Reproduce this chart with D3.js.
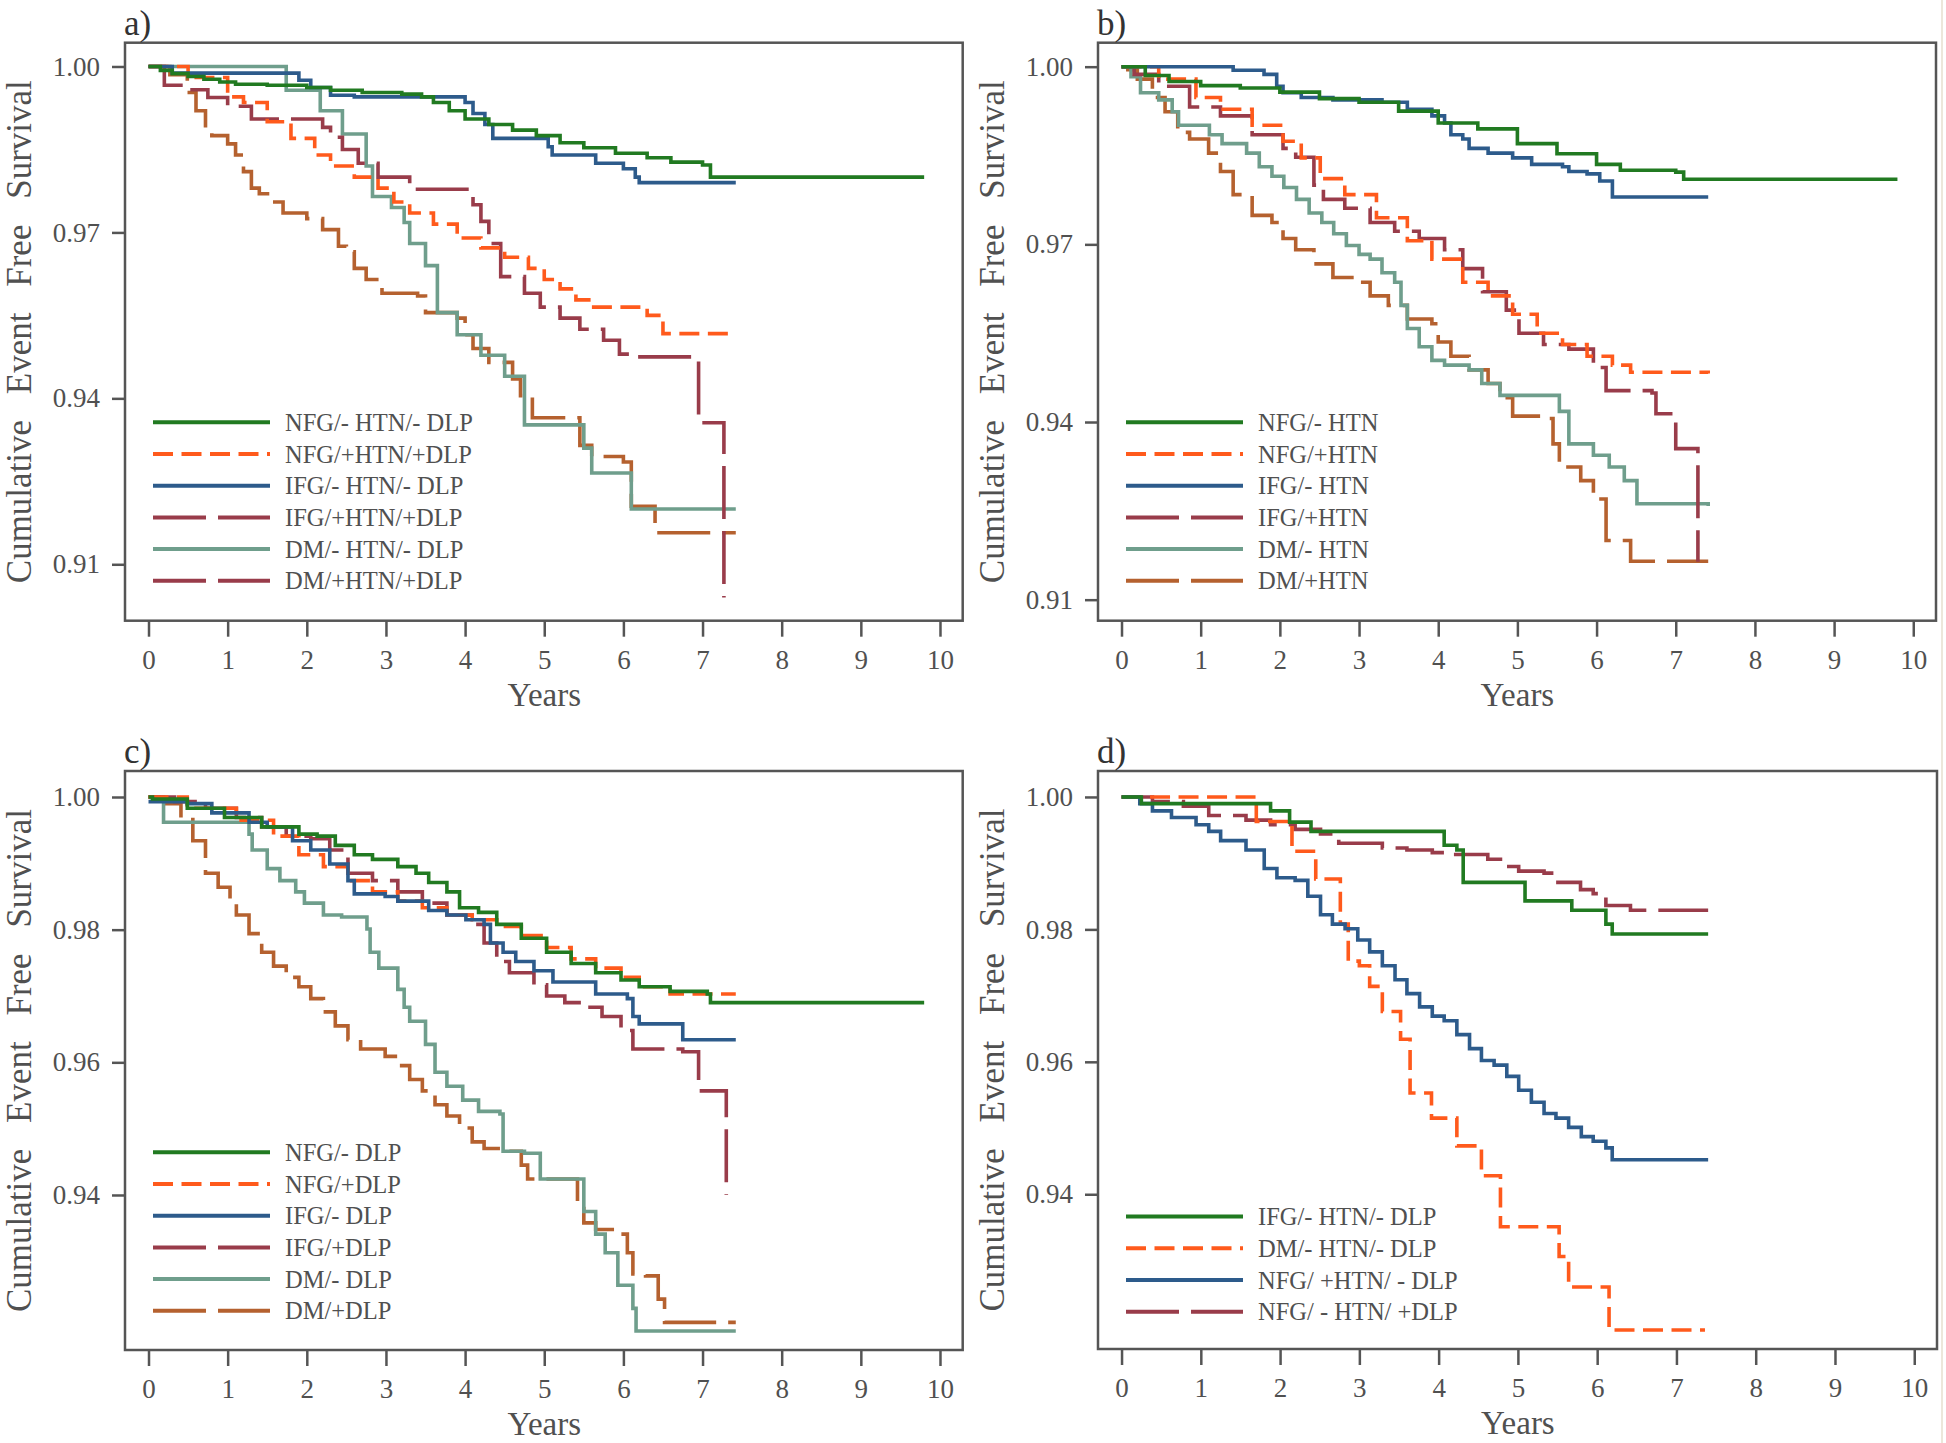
<!DOCTYPE html>
<html>
<head>
<meta charset="utf-8">
<script src="https://cdn.jsdelivr.net/npm/d3@7"></script>
<style>
  html, body { margin: 0; padding: 0; background: #fff; }
  svg { display: block; }
</style>
</head>
<body>
<div id="chart"></div>
<script>
// ---- data: [years, survival] at each step ----
const xTicks = [0, 1, 2, 3, 4, 5, 6, 7, 8, 9, 10]
const yTicksAB = [1.00, 0.97, 0.94, 0.91]
const yTicksCD = [1.00, 0.98, 0.96, 0.94]

// a) HTN + DLP combined
const a_NFG_neg = [[0,1],[0.15,0.9993],[0.3,0.9987],[0.5,0.9982],[0.7,0.9977],[0.9,0.9972],[1.1,0.9968],[1.5,0.9966],[2.0,0.9962],[2.3,0.9957],[2.7,0.9953],[3.2,0.9950],[3.45,0.9945],[3.6,0.9935],[3.8,0.9920],[4.0,0.9905],[4.3,0.9895],[4.6,0.9885],[4.9,0.9875],[5.2,0.9862],[5.5,0.9853],[5.9,0.9843],[6.3,0.9835],[6.6,0.9827],[7.0,0.9822],[7.1,0.9800],[9.8,0.9800]]
const a_NFG_pos = [[0,1],[0.5,0.9980],[1.0,0.9945],[1.2,0.9935],[1.5,0.9900],[1.8,0.9870],[2.1,0.9840],[2.3,0.9820],[2.6,0.9800],[2.9,0.9780],[3.1,0.9755],[3.3,0.9735],[3.6,0.9715],[3.9,0.9690],[4.2,0.9672],[4.5,0.9655],[4.8,0.9635],[5.0,0.9615],[5.2,0.9598],[5.4,0.9578],[5.6,0.9565],[6.3,0.9550],[6.5,0.9517],[7.42,0.9517]]
const a_IFG_neg = [[0,1],[0.3,0.9988],[1.9,0.9975],[2.05,0.9962],[2.3,0.9948],[2.6,0.9945],[4.0,0.9935],[4.1,0.9915],[4.25,0.9895],[4.35,0.9870],[5.05,0.9855],[5.1,0.9840],[5.65,0.9825],[6.0,0.9815],[6.15,0.9800],[6.2,0.9790],[7.42,0.9790]]
const a_IFG_pos = [[0,1],[0.2,0.9966],[0.45,0.9958],[0.75,0.9944],[1.0,0.9928],[1.3,0.9905],[2.2,0.9890],[2.3,0.9872],[2.45,0.9850],[2.65,0.9825],[2.9,0.9800],[3.3,0.9778],[4.1,0.9750],[4.2,0.9720],[4.3,0.9680],[4.45,0.9620],[4.75,0.9590],[4.95,0.9565],[5.2,0.9545],[5.45,0.9525],[5.75,0.9505],[5.95,0.9480],[6.1,0.9475],[6.95,0.9356],[7.27,0.9040]]
const a_DM_neg = [[0,1],[1.74,0.9957],[2.17,0.9920],[2.45,0.9878],[2.75,0.9820],[2.83,0.9765],[3.07,0.9745],[3.23,0.9718],[3.3,0.9680],[3.5,0.9640],[3.65,0.9555],[3.9,0.9515],[4.2,0.9478],[4.5,0.9440],[4.75,0.9352],[5.5,0.9310],[5.6,0.9265],[6.1,0.9200],[7.42,0.9200]]
const a_DM_pos = [[0,1],[0.27,0.9985],[0.49,0.9953],[0.6,0.9920],[0.72,0.9886],[0.8,0.9875],[1.0,0.9860],[1.1,0.9840],[1.2,0.9810],[1.3,0.9780],[1.4,0.9770],[1.55,0.9755],[1.7,0.9735],[2.0,0.9725],[2.2,0.9705],[2.4,0.9675],[2.5,0.9665],[2.6,0.9635],[2.75,0.9615],[2.95,0.9590],[3.4,0.9585],[3.5,0.9555],[3.9,0.9545],[4.0,0.9515],[4.1,0.9490],[4.3,0.9465],[4.6,0.9435],[4.7,0.9405],[4.85,0.9365],[5.45,0.9315],[5.6,0.9295],[6.0,0.9285],[6.1,0.9205],[6.4,0.9157],[7.42,0.9157]]

// b) HTN
const b_NFG_neg = [[0,1],[0.3,0.9985],[0.6,0.9975],[1.0,0.9968],[1.5,0.9964],[2.0,0.9957],[2.5,0.9946],[3.0,0.9940],[3.5,0.9925],[4.0,0.9905],[4.5,0.9895],[5.0,0.9870],[5.5,0.9853],[6.0,0.9835],[6.3,0.9825],[7.0,0.9822],[7.1,0.9810],[9.8,0.9810]]
const b_NFG_pos = [[0,1],[0.47,0.9979],[0.94,0.9948],[1.25,0.9928],[1.65,0.9901],[2.04,0.9874],[2.27,0.9846],[2.51,0.9811],[2.82,0.9784],[3.22,0.9745],[3.61,0.9706],[3.92,0.9675],[4.31,0.9636],[4.63,0.9613],[4.94,0.9582],[5.25,0.9550],[5.57,0.9531],[5.88,0.9511],[6.2,0.9496],[6.43,0.9484],[7.41,0.9482]]
const b_IFG_neg = [[0,1],[1.41,0.9994],[1.8,0.9987],[1.96,0.9967],[2.04,0.9956],[2.27,0.9948],[2.67,0.9944],[3.29,0.9940],[3.61,0.9928],[3.92,0.9917],[4.08,0.9905],[4.16,0.9885],[4.31,0.9878],[4.39,0.9862],[4.63,0.9854],[4.94,0.9846],[5.18,0.9835],[5.57,0.9831],[5.65,0.9823],[5.88,0.9819],[6.04,0.9807],[6.2,0.9780],[7.41,0.9780]]
const b_IFG_pos = [[0,1],[0.16,0.9987],[0.47,0.9967],[0.86,0.9932],[1.25,0.9917],[1.65,0.9885],[2.04,0.9862],[2.2,0.9847],[2.43,0.9800],[2.55,0.9776],[2.82,0.9761],[3.14,0.9737],[3.45,0.9722],[3.76,0.9710],[4.08,0.9691],[4.31,0.9659],[4.56,0.9620],[4.86,0.9589],[5.02,0.9550],[5.33,0.9531],[5.65,0.9523],[5.96,0.9492],[6.12,0.9453],[6.7,0.9449],[6.75,0.9414],[7.0,0.9355],[7.28,0.9164]]
const b_DM_neg = [[0,1],[0.12,0.9983],[0.24,0.9956],[0.47,0.9944],[0.64,0.9924],[0.72,0.9901],[1.11,0.9885],[1.27,0.9870],[1.58,0.9854],[1.74,0.9831],[1.9,0.9815],[2.05,0.9796],[2.21,0.9776],[2.37,0.9753],[2.53,0.9737],[2.68,0.9718],[2.84,0.9698],[3.0,0.9683],[3.14,0.9675],[3.29,0.9652],[3.45,0.9636],[3.53,0.9597],[3.61,0.9558],[3.76,0.9527],[3.92,0.9504],[4.08,0.9496],[4.39,0.9488],[4.55,0.9465],[4.78,0.9445],[5.53,0.9418],[5.65,0.9363],[5.96,0.9344],[6.16,0.9324],[6.35,0.9301],[6.51,0.9262],[7.41,0.9258]]
const b_DM_pos = [[0,1],[0.08,0.9995],[0.2,0.9979],[0.39,0.9948],[0.55,0.9924],[0.71,0.9889],[0.86,0.9878],[1.1,0.9854],[1.25,0.9823],[1.41,0.9784],[1.65,0.9749],[1.9,0.9737],[2.04,0.9710],[2.2,0.9691],[2.43,0.9667],[2.67,0.9644],[2.98,0.9636],[3.14,0.9613],[3.37,0.9597],[3.61,0.9574],[3.92,0.9566],[4.0,0.9535],[4.16,0.9511],[4.39,0.9488],[4.63,0.9465],[4.78,0.9441],[4.94,0.9410],[5.33,0.9406],[5.45,0.9363],[5.53,0.9324],[5.8,0.9301],[5.96,0.9270],[6.12,0.9200],[6.43,0.9165],[7.41,0.9165]]

// c) DLP
const c_NFG_neg = [[0,1],[0.05,0.9997],[0.49,0.9983],[0.96,0.9969],[1.43,0.9955],[1.9,0.9944],[2.13,0.9941],[2.36,0.9927],[2.6,0.9913],[2.83,0.9906],[3.15,0.9895],[3.38,0.9885],[3.54,0.9871],[3.77,0.9857],[3.93,0.9833],[4.17,0.9826],[4.4,0.9808],[4.71,0.9787],[5.03,0.9766],[5.34,0.9749],[5.65,0.9735],[5.97,0.9724],[6.2,0.9714],[6.59,0.9707],[7.06,0.9703],[7.1,0.9690],[9.8,0.9690]]
const c_NFG_pos = [[0,1],[0.49,0.9983],[1.11,0.9965],[1.58,0.9941],[1.9,0.9913],[2.21,0.9895],[2.52,0.9874],[2.83,0.9857],[3.15,0.9843],[3.46,0.9833],[3.77,0.9822],[4.09,0.9815],[4.4,0.9805],[4.71,0.9791],[5.03,0.9773],[5.34,0.9756],[5.65,0.9742],[5.97,0.9728],[6.2,0.9714],[6.59,0.9703],[7.42,0.9703]]
const c_IFG_neg = [[0,0.9993],[0.49,0.9990],[0.8,0.9976],[1.27,0.9962],[1.5,0.9955],[1.82,0.9934],[2.05,0.9920],[2.29,0.9899],[2.52,0.9874],[2.6,0.9854],[2.99,0.9850],[3.15,0.9843],[3.54,0.9829],[3.77,0.9822],[4.01,0.9815],[4.24,0.9808],[4.32,0.9780],[4.48,0.9766],[4.64,0.9752],[4.87,0.9738],[5.11,0.9721],[5.65,0.9703],[6.05,0.9696],[6.12,0.9669],[6.2,0.9658],[6.75,0.9634],[7.42,0.9634]]
const c_IFG_pos = [[0,1],[0.33,0.9993],[0.72,0.9983],[1.11,0.9969],[1.43,0.9955],[1.74,0.9941],[2.05,0.9937],[2.29,0.9920],[2.52,0.9885],[2.83,0.9874],[3.15,0.9857],[3.46,0.9840],[3.77,0.9822],[4.09,0.9808],[4.24,0.9780],[4.4,0.9752],[4.56,0.9735],[4.87,0.9717],[5.03,0.9700],[5.26,0.9690],[5.5,0.9683],[5.73,0.9669],[5.97,0.9648],[6.12,0.9620],[6.75,0.9616],[6.95,0.9557],[7.3,0.9400]]
const c_DM_neg = [[0,1],[0.19,0.9962],[1.27,0.9944],[1.31,0.9920],[1.5,0.9892],[1.66,0.9874],[1.86,0.9857],[1.97,0.9840],[2.21,0.9822],[2.44,0.9819],[2.76,0.9801],[2.8,0.9766],[2.91,0.9742],[3.15,0.9710],[3.23,0.9683],[3.3,0.9662],[3.5,0.9627],[3.62,0.9585],[3.77,0.9564],[3.97,0.9543],[4.17,0.9526],[4.44,0.9522],[4.48,0.9466],[4.75,0.9463],[4.95,0.9424],[5.5,0.9375],[5.65,0.9341],[5.77,0.9313],[5.93,0.9264],[6.12,0.9229],[6.16,0.9195],[7.42,0.9195]]
const c_DM_pos = [[0,1],[0.13,0.9998],[0.21,0.9990],[0.41,0.9969],[0.56,0.9934],[0.72,0.9885],[0.88,0.9864],[1.03,0.9847],[1.11,0.9822],[1.27,0.9794],[1.43,0.9766],[1.58,0.9745],[1.74,0.9728],[1.9,0.9714],[2.05,0.9696],[2.21,0.9676],[2.36,0.9655],[2.52,0.9634],[2.68,0.9620],[2.99,0.9609],[3.15,0.9595],[3.3,0.9574],[3.46,0.9557],[3.62,0.9536],[3.77,0.9519],[3.93,0.9501],[4.09,0.9480],[4.24,0.9470],[4.56,0.9466],[4.71,0.9445],[4.79,0.9424],[5.26,0.9424],[5.42,0.9389],[5.5,0.9358],[5.65,0.9348],[5.89,0.9341],[6.05,0.9313],[6.12,0.9281],[6.28,0.9278],[6.44,0.9243],[6.52,0.9208],[7.42,0.9208]]

// d) single risk factor vs. reference
const d_IFG = [[0,1],[0.25,0.9990],[1.88,0.9979],[2.12,0.9962],[2.39,0.9948],[4.07,0.9927],[4.23,0.9920],[4.31,0.9871],[5.09,0.9843],[5.68,0.9829],[6.11,0.9808],[6.19,0.9793],[7.4,0.9793]]
const d_DM = [[0,1],[1.7,0.9963],[2.15,0.9918],[2.45,0.9876],[2.76,0.9808],[2.86,0.9752],[3.0,0.9745],[3.13,0.9714],[3.29,0.9676],[3.52,0.9634],[3.64,0.9553],[3.91,0.9515],[4.23,0.9473],[4.54,0.9428],[4.78,0.9351],[5.52,0.9306],[5.64,0.9260],[6.15,0.9195],[7.36,0.9195]]
const d_HTN = [[0,1],[0.23,0.9990],[0.39,0.9979],[0.63,0.9969],[0.94,0.9958],[1.1,0.9948],[1.25,0.9934],[1.57,0.9920],[1.8,0.9892],[1.96,0.9878],[2.19,0.9874],[2.35,0.9850],[2.51,0.9822],[2.66,0.9808],[2.82,0.9801],[2.98,0.9784],[3.13,0.9766],[3.29,0.9745],[3.45,0.9724],[3.6,0.9703],[3.76,0.9683],[3.92,0.9669],[4.07,0.9662],[4.23,0.9641],[4.39,0.9620],[4.54,0.9602],[4.7,0.9595],[4.86,0.9578],[5.01,0.9557],[5.17,0.9539],[5.33,0.9522],[5.48,0.9515],[5.64,0.9501],[5.8,0.9487],[5.95,0.9480],[6.11,0.9470],[6.19,0.9452],[7.4,0.9452]]
const d_DLP = [[0,1],[0.39,0.9993],[0.78,0.9986],[1.1,0.9972],[1.57,0.9965],[1.88,0.9958],[2.19,0.9951],[2.51,0.9944],[2.74,0.9930],[3.29,0.9923],[3.6,0.9920],[3.92,0.9916],[4.15,0.9913],[4.62,0.9906],[4.78,0.9895],[5.01,0.9888],[5.33,0.9885],[5.48,0.9871],[5.79,0.9860],[5.95,0.9854],[6.11,0.9836],[6.42,0.9829],[7.4,0.9829]]

const labelsA = ['NFG/- HTN/- DLP', 'NFG/+HTN/+DLP', 'IFG/- HTN/- DLP', 'IFG/+HTN/+DLP', 'DM/- HTN/- DLP', 'DM/+HTN/+DLP']
const labelsB = ['NFG/- HTN', 'NFG/+HTN', 'IFG/- HTN', 'IFG/+HTN', 'DM/- HTN', 'DM/+HTN']
const labelsC = ['NFG/- DLP', 'NFG/+DLP', 'IFG/- DLP', 'IFG/+DLP', 'DM/- DLP', 'DM/+DLP']
const labelsD = ['IFG/- HTN/- DLP', 'DM/- HTN/- DLP', 'NFG/ +HTN/ - DLP', 'NFG/ - HTN/ +DLP']

// ---- styles ----
const FONT = "'Liberation Serif', 'DejaVu Serif', serif"
const INK = '#505050'
const styles = {
    green:  { color: '#217a21', dash: null },
    orange: { color: '#ff5a1c', dash: '20 8.5' },
    blue:   { color: '#2d5b8b', dash: null },
    red:    { color: '#993c4a', dash: '53 12' },
    sage:   { color: '#6f9e8c', dash: null },
    brown:  { color: '#b5612f', dash: '53 12' }
}

const panels = [
    { label: 'a)', fx: 125, fy: 42.7, fw: 837.7, fh: 578, yDomain: [0.8998, 1.0043], yTicks: yTicksAB, legendTop: 422.3,
      curves: [[a_DM_pos, 'brown'], [a_DM_neg, 'sage'], [a_IFG_pos, 'red'], [a_NFG_pos, 'orange'], [a_IFG_neg, 'blue'], [a_NFG_neg, 'green']],
      legend: labelsA, legendStyles: ['green', 'orange', 'blue', 'red', 'sage', 'red'] },
    { label: 'b)', fx: 1098, fy: 42.7, fw: 838, fh: 578, yDomain: [0.90645, 1.00405], yTicks: yTicksAB, legendTop: 422.3,
      curves: [[b_DM_pos, 'brown'], [b_DM_neg, 'sage'], [b_IFG_pos, 'red'], [b_NFG_pos, 'orange'], [b_IFG_neg, 'blue'], [b_NFG_neg, 'green']],
      legend: labelsB, legendStyles: ['green', 'orange', 'blue', 'red', 'sage', 'brown'] },
    { label: 'c)', fx: 125, fy: 771, fw: 837.7, fh: 579, yDomain: [0.91663, 1.00392], yTicks: yTicksCD, legendTop: 1152.3,
      curves: [[c_DM_pos, 'brown'], [c_DM_neg, 'sage'], [c_IFG_pos, 'red'], [c_NFG_pos, 'orange'], [c_IFG_neg, 'blue'], [c_NFG_neg, 'green']],
      legend: labelsC, legendStyles: ['green', 'orange', 'blue', 'red', 'sage', 'brown'] },
    { label: 'd)', fx: 1098, fy: 771, fw: 839, fh: 578, yDomain: [0.91663, 1.00392], yTicks: yTicksCD, legendTop: 1216.6,
      curves: [[d_DLP, 'red'], [d_DM, 'orange'], [d_HTN, 'blue'], [d_IFG, 'green']],
      legend: labelsD, legendStyles: ['green', 'orange', 'blue', 'red'] }
]

const W = 1946, H = 1443
const svg = d3.select('#chart').append('svg').attr('width', W).attr('height', H)
    .style('font-family', FONT)

// faint scan edge on the right
svg.append('line').attr('x1', 1942).attr('x2', 1942).attr('y1', 0).attr('y2', H)
    .attr('stroke', '#ece7da').attr('stroke-width', 2)

panels.forEach(p => {
    const g = svg.append('g')
    const x = d3.scaleLinear().domain([-0.297, 10.287]).range([p.fx, p.fx + p.fw])
    const y = d3.scaleLinear().domain(p.yDomain).range([p.fy + p.fh, p.fy])

    // axes
    const yAxis = g.append('g').attr('transform', `translate(${p.fx},0)`)
        .call(d3.axisLeft(y).tickValues(p.yTicks).tickFormat(d3.format('.2f')).tickSize(13).tickPadding(12))
    const xAxis = g.append('g').attr('transform', `translate(0,${p.fy + p.fh})`)
        .call(d3.axisBottom(x).tickValues(xTicks).tickFormat(d3.format('d')).tickSize(16).tickPadding(13))
    ;[yAxis, xAxis].forEach(ax => {
        ax.select('.domain').remove()
        ax.selectAll('line').attr('stroke', '#555').attr('stroke-width', 2.5)
        ax.selectAll('text').attr('fill', INK).style('font-size', '27px').style('font-family', FONT)
    })

    // curves
    const line = d3.line().curve(d3.curveStepAfter).x(d => x(d[0])).y(d => y(d[1]))
    p.curves.forEach(([data, key]) => {
        const st = styles[key]
        g.append('path').datum(data).attr('d', line)
            .attr('fill', 'none').attr('stroke', st.color).attr('stroke-width', 3.6)
            .attr('stroke-dasharray', st.dash)
    })

    // frame
    g.append('rect').attr('x', p.fx).attr('y', p.fy).attr('width', p.fw).attr('height', p.fh)
        .attr('fill', 'none').attr('stroke', '#555').attr('stroke-width', 2.5)

    // legend
    const lg = g.append('g')
    p.legend.forEach((name, i) => {
        const st = styles[p.legendStyles[i]]
        const ly = p.legendTop + i * 31.7
        lg.append('line').attr('x1', p.fx + 28).attr('x2', p.fx + 145).attr('y1', ly).attr('y2', ly)
            .attr('stroke', st.color).attr('stroke-width', 4).attr('stroke-dasharray', st.dash)
        lg.append('text').attr('x', p.fx + 160).attr('y', ly).attr('dy', '0.35em')
            .attr('fill', INK).style('font-size', '24.5px').text(name)
    })

    // titles
    g.append('text').attr('transform', `translate(${p.fx - 106},${p.fy + p.fh / 2}) rotate(-90)`)
        .attr('text-anchor', 'middle').attr('dy', '0.35em').attr('fill', INK)
        .style('font-size', '35px').style('word-spacing', '17px')
        .text('Cumulative Event Free Survival')
    g.append('text').attr('x', x(5)).attr('y', p.fy + p.fh + 85).attr('text-anchor', 'middle')
        .attr('fill', INK).style('font-size', '33px').text('Years')
    g.append('text').attr('x', p.fx - 1).attr('y', p.fy - 8)
        .attr('fill', '#333').style('font-size', '35px').text(p.label)
})
</script>
</body>
</html>
